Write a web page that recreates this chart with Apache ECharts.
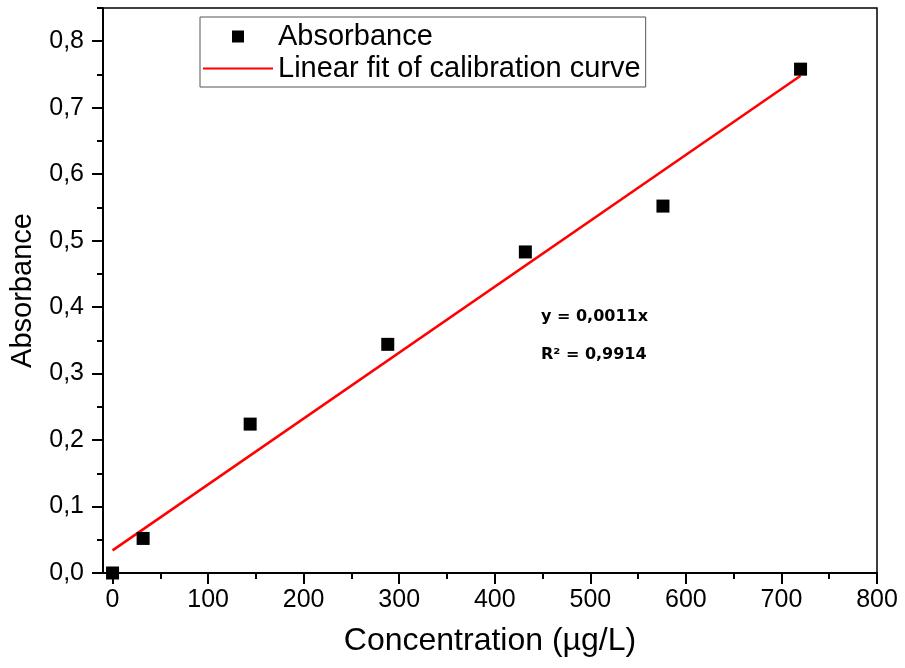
<!DOCTYPE html>
<html>
<head>
<meta charset="utf-8">
<script src="https://cdn.jsdelivr.net/npm/echarts@6/dist/echarts.min.js"></script>
<style>html,body{margin:0;padding:0;background:#fff;}#c{width:905px;height:668px;}</style>
</head>
<body>
<div id="c"></div>
<script>
// Data
const concentration = [0, 32, 144, 288, 432, 576, 720];
const absorbance = [0.000, 0.052, 0.224, 0.344, 0.483, 0.552, 0.758];
const fitX = [0, 720];
const fitY = [0.034, 0.748];
const xTickValues = [0, 100, 200, 300, 400, 500, 600, 700, 800];
const xMinorValues = [50, 150, 250, 350, 450, 550, 650, 750];
const yTickValues = [0, 0.1, 0.2, 0.3, 0.4, 0.5, 0.6, 0.7, 0.8];
const yMinorValues = [0.05, 0.15, 0.25, 0.35, 0.45, 0.55, 0.65, 0.75, 0.85];
const annotationLines = ['y = 0,0011x', 'R\u00b2 = 0,9914'];
const seriesNames = ['Absorbance', 'Linear fit of calibration curve'];

const FONT = 'Liberation Sans, Arial, sans-serif';
const chart = echarts.init(document.getElementById('c'), null, {renderer: 'canvas'});

const scatterData = concentration.map((x, i) => [x, absorbance[i]]);
const fitData = fitX.map((x, i) => [x, fitY[i]]);

chart.setOption({
  animation: false,
  backgroundColor: '#fff',
  grid: {left: 102, top: 8, right: 28, bottom: 95, show: true, borderColor: '#000', borderWidth: 1.5, backgroundColor: 'transparent'},
  legend: {
    left: 200, top: 17, orient: 'vertical',
    padding: [5, 5, 4, 3], itemGap: 3,
    itemWidth: 70, itemHeight: 12,
    symbolKeepAspect: true,
    borderColor: '#555', borderWidth: 1,
    textStyle: {fontFamily: FONT, fontSize: 29, color: '#000'},
    data: [
      {name: seriesNames[0], icon: 'path://M0,0H10V10H0Z', itemStyle: {color: '#000', opacity: 1}},
      {name: seriesNames[1], icon: 'path://M0,0H35V1H0Z', itemStyle: {color: '#ff0000', opacity: 1}}
    ]
  },
  xAxis: [{
    type: 'value', min: -10, max: 800, position: 'bottom',
    name: 'Concentration (\u00b5g/L)', nameLocation: 'middle', nameGap: 52,
    nameTextStyle: {fontFamily: FONT, fontSize: 32, color: '#000'},
    axisLine: {show: true, onZero: false, lineStyle: {color: '#000', width: 2}},
    axisTick: {show: true, length: 11, customValues: xTickValues, lineStyle: {color: '#000', width: 2}},
    axisLabel: {customValues: xTickValues, margin: 15, fontFamily: FONT, fontSize: 25, color: '#000', formatter: v => String(v)},
    splitLine: {show: false}
  }, {
    type: 'value', min: -10, max: 800, position: 'bottom',
    axisLine: {show: false, onZero: false},
    axisTick: {show: true, length: 6, customValues: xMinorValues, lineStyle: {color: '#000', width: 2}},
    axisLabel: {show: false},
    splitLine: {show: false}
  }],
  yAxis: [{
    type: 'value', min: 0, max: 0.85, position: 'left',
    name: 'Absorbance', nameLocation: 'middle', nameGap: 66,
    nameTextStyle: {fontFamily: FONT, fontSize: 29, color: '#000'},
    axisLine: {show: true, onZero: false, lineStyle: {color: '#000', width: 2}},
    axisTick: {show: true, length: 11, customValues: yTickValues, lineStyle: {color: '#000', width: 2}},
    axisLabel: {customValues: yTickValues, margin: 19, fontFamily: FONT, fontSize: 25, color: '#000',
      formatter: v => v.toFixed(1).replace('.', ',')},
    splitLine: {show: false}
  }, {
    type: 'value', min: 0, max: 0.85, position: 'left',
    axisLine: {show: false, onZero: false},
    axisTick: {show: true, length: 6, customValues: yMinorValues, lineStyle: {color: '#000', width: 2}},
    axisLabel: {show: false},
    splitLine: {show: false}
  }],
  series: [{
    name: seriesNames[0], type: 'scatter', xAxisIndex: 0, yAxisIndex: 0,
    symbol: 'rect', symbolSize: 13,
    itemStyle: {color: '#000', opacity: 1},
    data: scatterData, z: 3
  }, {
    name: seriesNames[1], type: 'line', xAxisIndex: 0, yAxisIndex: 0,
    symbol: 'none', showSymbol: false,
    lineStyle: {color: '#ff0000', width: 2.5},
    itemStyle: {color: '#ff0000'},
    data: fitData, z: 2
  }],
  graphic: annotationLines.map((t, i) => ({
    type: 'text', left: 541, top: 309 + i * 38, silent: true,
    style: {text: t, fontFamily: 'DejaVu Sans', fontWeight: 'bold', fontSize: 16, fill: '#000'}
  }))
});
</script>
</body>
</html>
